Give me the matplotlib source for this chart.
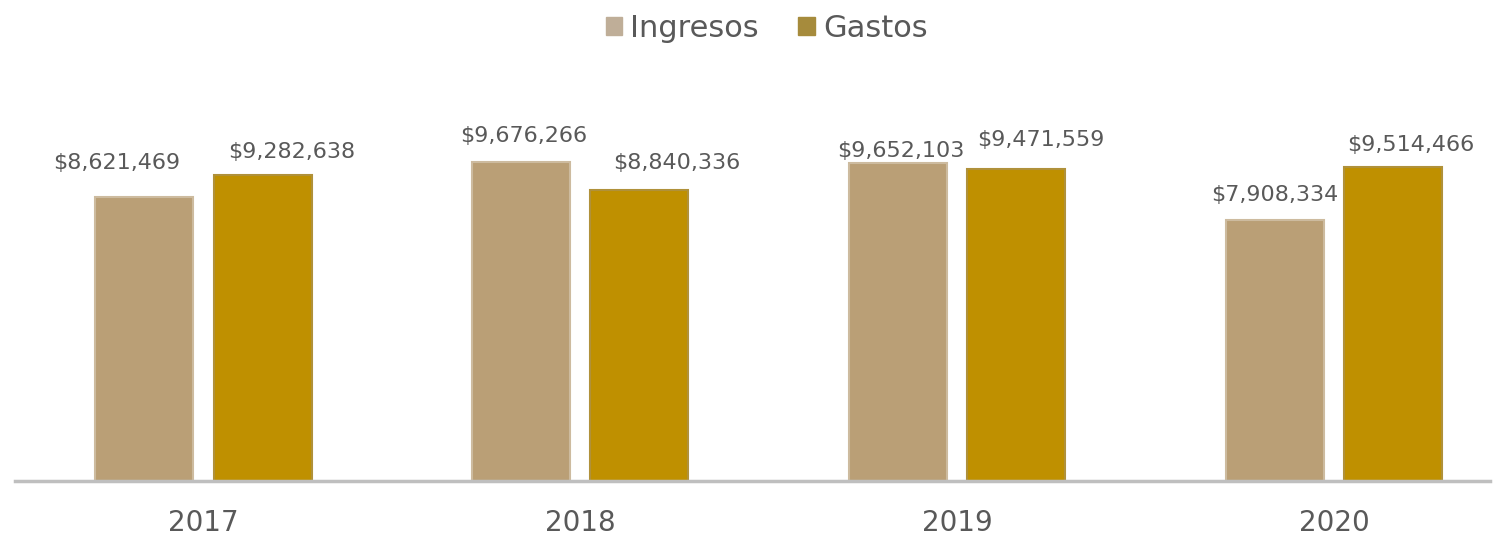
import matplotlib.pyplot as plt
from matplotlib.patches import Patch
import numpy as np

# Data
years = ['2017', '2018', '2019', '2020']
ingresos = [8621469, 9676266, 9652103, 7908334]
gastos = [9282638, 8840336, 9471559, 9514466]

# label nudges in pixels (dx, dy above bar top)
ing_nudge = [(-28, 34), (3, 26), (3, 12), (0, 25)]
gas_nudge = [(29, 23), (37, 27), (25, 29), (18, 22)]

col_ing = '#BA9F76'
col_gas = '#BF9000'
txt = '#595959'

plt.rcParams['font.family'] = ['DejaVu Sans']

fig = plt.figure(figsize=(15.03, 5.36), dpi=100)
ax = fig.add_axes([15 / 1503, 1 - 481 / 536, (1490 - 15) / 1503, (481 - 60) / 536])

x = np.arange(len(years))
w = 0.26
off = 0.157
b1 = ax.bar(x - off, ingresos, w, color=col_ing, edgecolor='#CDBB9F', linewidth=1.5)
b2 = ax.bar(x + off, gastos, w, color=col_gas, edgecolor='#B0913A', linewidth=1.5)

for bars, vals, nudge in [(b1, ingresos, ing_nudge), (b2, gastos, gas_nudge)]:
    for b, v, (dx, dy) in zip(bars, vals, nudge):
        ax.annotate('${:,}'.format(v), (b.get_x() + b.get_width() / 2, v),
                    xytext=(dx * 0.72, dy * 0.72), textcoords='offset points',
                    ha='center', va='center', fontsize=16, color=txt)

ax.set_xlim(-0.5, 3.414)
ax.set_ylim(0, 12.77e6)
ax.set_xticks(x)
ax.set_xticklabels(years, fontsize=20, color=txt)
ax.tick_params(axis='x', length=0, pad=20)
ax.set_yticks([])
for s in ['top', 'right', 'left']:
    ax.spines[s].set_visible(False)
ax.spines['bottom'].set_color('#BFBFBF')
ax.spines['bottom'].set_linewidth(2.5)

handles = [Patch(color='#BFAE98'), Patch(color='#A68B3C')]
fig.legend(handles=handles, labels=['Ingresos', 'Gastos'], loc='upper center',
           bbox_to_anchor=(0.51, 1.025), ncol=2, frameon=False, fontsize=22,
           handlelength=0.55, handleheight=0.55, handletextpad=0.25, columnspacing=1.3,
           labelcolor=txt)

fig.savefig('out.png', dpi=100)
